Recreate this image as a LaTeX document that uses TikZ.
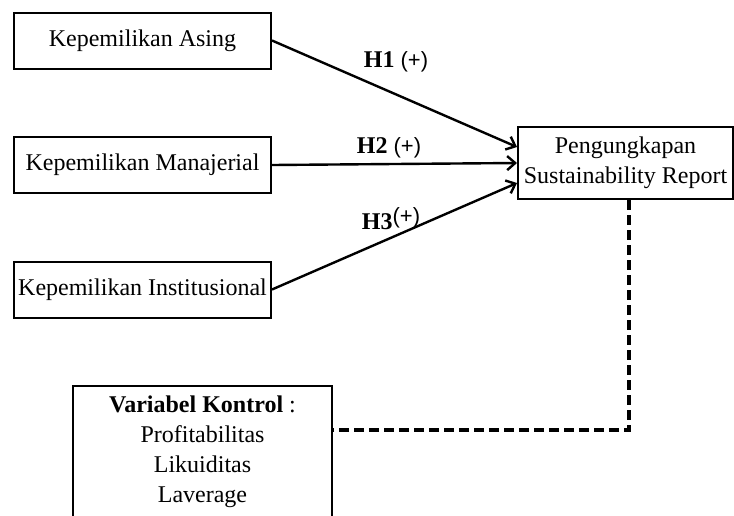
\documentclass[tikz,border=0pt]{standalone}
\usepackage{fontspec}
\setmainfont{Liberation Serif}
\newfontfamily\plusfont{Liberation Sans}
\usetikzlibrary{arrows.meta}

\begin{document}
\begin{tikzpicture}[x=0.5pt,y=-0.5pt,
	kotak/.style={draw, line width=1pt, minimum width=128.5pt, minimum height=28pt, inner sep=2pt, font=\fontsize{12}{15}\selectfont},
	panah/.style={line width=1.2pt, -{Straight Barb[length=4pt,width=7pt]}},
	putus/.style={line width=1.6pt, dash pattern=on 5pt off 2.5pt},
	label/.style={font=\fontsize{12}{14}\selectfont, inner sep=0pt}]

	\useasboundingbox (0,0) rectangle (734,515);
	\clip (0,0) rectangle (734,515);

	\node[kotak] (asing) at (142.5,40.5) {Kepemilikan Asing};
	\node[kotak] (manajerial) at (142.5,165) {Kepemilikan Manajerial};
	\node[kotak] (institusional) at (142.5,289.5) {Kepemilikan Institusional};

	\node[kotak, minimum width=107.5pt, minimum height=36pt, align=center] (pengungkapan) at (625.5,163) {Pengungkapan\\Sustainability Report};

	\node[kotak, anchor=north, minimum width=129.5pt, align=center, inner xsep=3pt, inner ysep=5pt, text depth=40pt] (kontrol) at (202.5,385)
		{\textbf{Variabel Kontrol} :\\Profitabilitas\\Likuiditas\\Laverage};

	\draw[panah] (asing.east) -- ([yshift=8pt]pengungkapan.west);
	\draw[panah] (manajerial.east) -- (pengungkapan.west);
	\draw[panah] (institusional.east) -- ([yshift=-10pt]pengungkapan.west);

	\node[label] (h1) at (396,62) {\textbf{H1} {\plusfont\fontsize{11}{13}\selectfont(+)}};
	\node[label] (h2) at (389,148) {\textbf{H2} {\plusfont\fontsize{11}{13}\selectfont(+)}};
	\node[label] (h3) at (391,219) {\textbf{H3}\raisebox{3pt}{\plusfont\fontsize{11}{13}\selectfont(+)}};

	\coordinate (sudut) at (629,430);
	\draw[putus] (pengungkapan.south -| sudut) -- (sudut) -- (sudut -| kontrol.east);
\end{tikzpicture}
\end{document}
